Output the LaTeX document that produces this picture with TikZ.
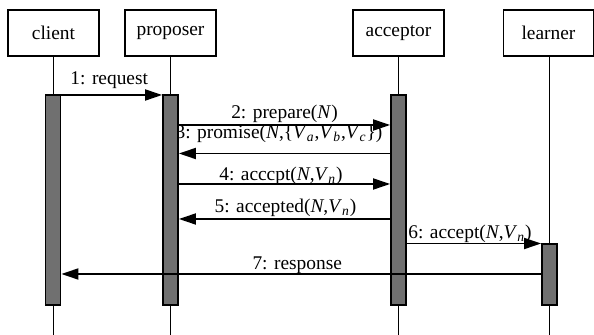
\documentclass[tikz,border=0pt]{standalone}
\usepackage{fontspec}
\setmainfont{Liberation Serif}
\usetikzlibrary{arrows.meta}
\definecolor{barfill}{RGB}{112,112,112}
\pgfdeclarelayer{under}
\pgfsetlayers{under,main}
\newcommand{\Vsub}[1]{\textit{V}\textsubscript{\textit{#1}}}
\begin{document}
\begin{tikzpicture}[x=0.5pt,y=-0.5pt,
  font=\fontsize{9.7}{11.6}\selectfont,
  role/.style={draw, line width=0.9pt, minimum width=45.5pt, minimum height=23pt, inner sep=0pt},
  life/.style={line width=0.9pt},
  bar/.style={draw, fill=barfill, line width=0.9pt, minimum width=7.5pt, inner sep=0pt},
  msg/.style={line width=0.9pt, -{Triangle[length=8.5pt,width=5.5pt]}},
  lbl/.style={anchor=base, inner sep=0pt}]
\useasboundingbox (0,0) rectangle (594,335);

% participants
\node[role] (client)   at (53.5,33)  {client};
\node[role] (proposer) at (170.5,33) {proposer};
\node[role] (acceptor) at (398.5,33) {acceptor};
\node[role, minimum width=45pt] (learner) at (548.5,33) {learner};

% activation bars
\node[bar, minimum height=105pt]  (barC) at (53,200)    {};
\node[bar, minimum height=105pt]  (barP) at (170.5,200) {};
\node[bar, minimum height=105pt]  (barA) at (398.5,200) {};
\node[bar, minimum height=30.5pt] (barL) at (549.5,274.5) {};

% message rows
\coordinate (bottom) at (0,335);
\coordinate (m1) at (0,95);
\coordinate (m2) at (0,125);
\coordinate (m3) at (0,153.5);
\coordinate (m4) at (0,184);
\coordinate (m5) at (0,219);
\coordinate (m6) at (0,243.5);
\coordinate (m7) at (0,274);

% messages
\draw[msg] (barC.east |- m1) -- coordinate (c1) (barP.west |- m1);
\draw[msg] (barP.east |- m2) -- coordinate (c2) (barA.west |- m2);
\draw[msg] (barA.west |- m3) -- coordinate (c3) (barP.east |- m3);
\draw[msg] (barP.east |- m4) -- coordinate (c4) (barA.west |- m4);
\draw[msg] (barA.west |- m5) -- coordinate (c5) (barP.east |- m5);
\draw[msg] (barA.east |- m6) -- coordinate (c6) (barL.west |- m6);
\draw[msg] (barL.west |- m7) -- coordinate (c7) (barC.east |- m7);

\begin{pgfonlayer}{under}
  % lifelines
  \draw[life] (client.south)   -- (client.south |- bottom);
  \draw[life] (proposer.south) -- (proposer.south |- bottom);
  \draw[life] (acceptor.south) -- (acceptor.south |- bottom);
  \draw[life] ([xshift=0.5pt]learner.south) -- ([xshift=0.5pt]learner.south |- bottom);
  % message labels
  \node[lbl, xshift=-1.25pt, yshift=5pt]   at (c1) {1: request};
  \node[lbl, yshift=3.3pt]                 at (c2) {2: prepare(\textit{N})};
  \node[lbl, xshift=-2.75pt, yshift=7.5pt] at (c3) {3: promise(\textit{N},\{\Vsub{a},\Vsub{b},\Vsub{c}\})};
  \node[lbl, xshift=-1.75pt, yshift=1.75pt] at (c4) {4: acccpt(\textit{N},\Vsub{n})};
  \node[lbl, xshift=0.5pt, yshift=3.3pt]   at (c5) {5: accepted(\textit{N},\Vsub{n})};
  \node[lbl, xshift=-2pt, yshift=2.6pt]    at (c6) {6: accept(\textit{N},\Vsub{n})};
  \node[lbl, xshift=-2pt, yshift=2.2pt]    at (c7) {7: response};
\end{pgfonlayer}
\end{tikzpicture}
\end{document}
